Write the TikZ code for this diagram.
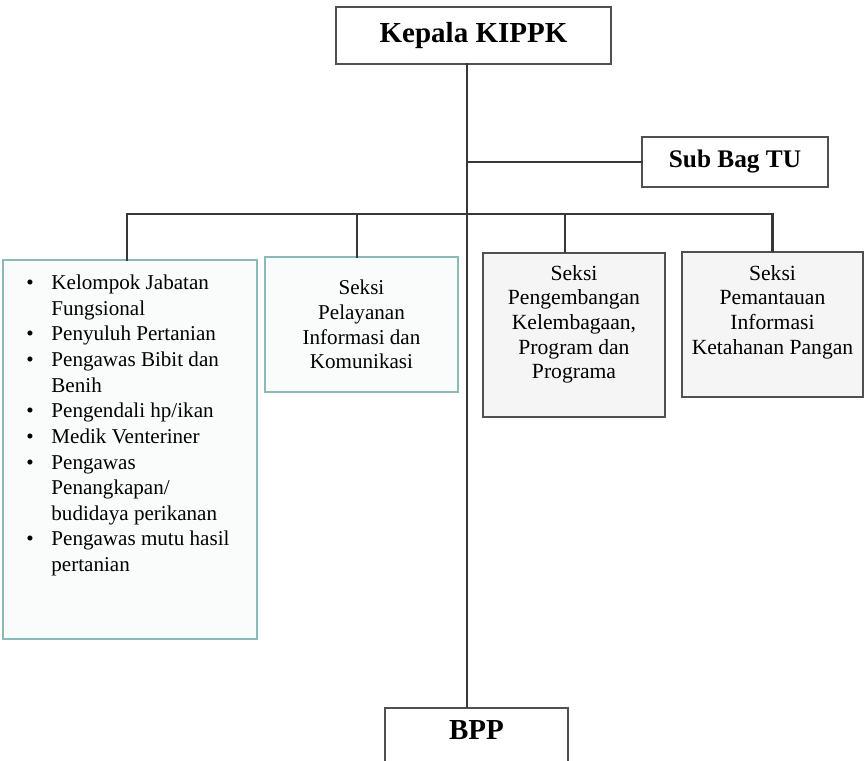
\documentclass[tikz,border=0pt]{standalone}
\usepackage{fontspec}
\setmainfont{Liberation Serif}
\usepackage{tikz}
\usetikzlibrary{positioning,calc}
\definecolor{kipteal}{RGB}{140,186,182}
\definecolor{kipgray}{RGB}{80,80,80}
\definecolor{kipline}{RGB}{55,55,55}

\begin{document}
\begin{tikzpicture}[
    head/.style={rectangle, draw=kipgray, line width=1pt, fill=white,
                 minimum width=5.5cm, minimum height=1.14cm, font=\fontsize{16.5}{20}\selectfont\bfseries},
    unit/.style={rectangle, draw=kipteal, line width=1pt, fill=kipteal!4, align=center,
                 font=\fontsize{12}{14}\selectfont},
    sect/.style={rectangle, draw=kipgray, line width=1.2pt, fill=black!4},
    txt/.style={inner sep=0pt, align=center, font=\fontsize{12.3}{14}\selectfont},
    link/.style={draw=kipline, line width=1.6pt, line cap=rect}
]
    \useasboundingbox (0,0) rectangle (17.28,-15.22);
    \clip (0,0) rectangle (17.28,-15.22);
    % head, staff and BPP
    \node[head] (kepala) at (9.47,-0.71) {Kepala KIPPK};
    \node[head, minimum width=3.72cm, minimum height=1.0cm,
          font=\fontsize{14.4}{17}\selectfont\bfseries] (subbag) at (14.70,-3.24) {Sub Bag TU};
    \node[head, minimum width=3.66cm, anchor=base, text height=14pt, text depth=1.5cm,
          inner sep=4pt] (bpp) at (9.53,-14.79) {BPP};
    % sections
    \node[unit, minimum width=5.08cm, minimum height=7.58cm] (fung) at (2.60,-8.99) {};
    \node[inner sep=0pt, anchor=north west, font=\fontsize{12}{14.6}\selectfont] (funglist)
        at ($(fung.north west)+(0.48,-0.24)$) {%
        \begin{tabular}{@{}c@{\hspace{10pt}}l@{}}
        \textbullet & Kelompok Jabatan\\
                    & Fungsional\\
        \textbullet & Penyuluh Pertanian\\
        \textbullet & Pengawas Bibit dan\\
                    & Benih\\
        \textbullet & Pengendali hp/ikan\\
        \textbullet & Medik Venteriner\\
        \textbullet & Pengawas\\
                    & Penangkapan/\\
                    & budidaya perikanan\\
        \textbullet & Pengawas mutu hasil\\
                    & pertanian
        \end{tabular}};
    \node[unit, minimum width=3.86cm, minimum height=2.70cm] (pel) at (7.23,-6.49)
        {Seksi\\Pelayanan\\Informasi dan\\Komunikasi};
    \node[sect, minimum width=3.64cm, minimum height=3.28cm] (peng) at (11.48,-6.70) {};
    \node[txt, below=0.26cm of peng.north] (pengtxt)
        {Seksi\\Pengembangan\\Kelembagaan,\\Program dan\\Programa};
    \node[sect, minimum width=3.62cm, minimum height=2.90cm] (pant) at (15.45,-6.49) {};
    \node[txt, below=0.28cm of pant.north] (panttxt)
        {Seksi\\Pemantauan\\Informasi\\Ketahanan Pangan};
    % lines
    \coordinate (trunk) at (9.34,-4.28);
    \draw[link] (kepala.south -| trunk) -- (bpp.north -| trunk);
    \draw[link] (subbag.west -| trunk) -- (subbag.west);
    \draw[link] ([xshift=-0.06cm]fung.north |- trunk) -- (pant.north |- trunk);
    \foreach \s/\dx in {fung/-0.06,pel/-0.09,peng/-0.18,pant/0}
        \draw[link] ([xshift=\dx cm]\s.north |- trunk) -- ([xshift=\dx cm]\s.north);
\end{tikzpicture}
\end{document}
